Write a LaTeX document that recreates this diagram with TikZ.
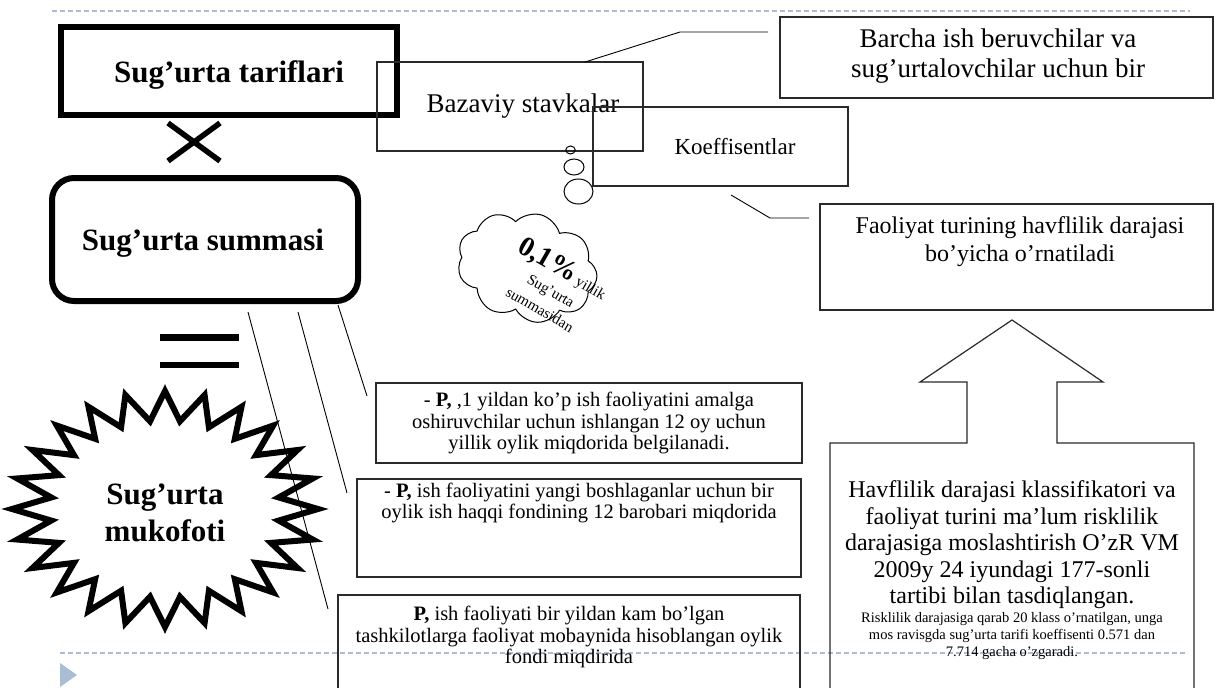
\documentclass[tikz,border=0pt]{standalone}
\usepackage{fontspec}
\setmainfont{Liberation Serif}
\usetikzlibrary{shapes.symbols,calc}
\definecolor{guideblue}{HTML}{A9BDD3}
\definecolor{boxline}{HTML}{2A2A2A}
\begin{document}
\begin{tikzpicture}[x=1pt,y=-1pt,
  thinbox/.style={draw=boxline,line width=1.2pt,inner sep=0pt,outer sep=0pt},
  heavybox/.style={draw=black,line width=6pt,inner sep=0pt,outer sep=0pt},
  titletxt/.style={font=\bfseries\fontsize{31}{37}\selectfont,align=center,inner sep=0pt},
  guide/.style={draw=guideblue,line width=1.2pt,dash pattern=on 5pt off 3pt},
  leader/.style={draw=black,line width=0.9pt},
  bigtxt/.style={font=\fontsize{27}{30}\selectfont,align=center,inner sep=0pt},
  midtxt/.style={font=\fontsize{20.5}{21.5}\selectfont,align=center,inner sep=0pt},
  starline/.style={draw=black,line width=6pt,line join=miter,miter limit=20}]
\useasboundingbox (0,0) rectangle (1216,688);
\clip (0,0) rectangle (1216,688);

% guide lines
\draw[guide] (52,11) -- (1190,11);
\draw[guide] (60,653) -- (1188,653);
\fill[guideblue] (60,663) -- (77,675) -- (60,687) -- cycle;

% left formula column
\node[heavybox,minimum width=336pt,minimum height=88.5pt] (tar) at (229,70.75) {};
\node[titletxt] (tartxt) at (229,75) {Sug’urta tariflari};
\draw[line width=5.5pt] (168,123) -- (220,161) (168,161) -- (220,123);
\node[heavybox,rounded corners=22pt,minimum width=306pt,minimum height=123pt] (sum) at (205,239.5) {};
\node[titletxt] (sumtxt) at (203,243) {Sug’urta summasi};
\fill (160,334) rectangle (239,341);
\fill (160,362) rectangle (239,368);
\draw[starline] plot[samples at={0,...,47}]
  ({165+153*(1-0.25*mod(\x,2))*cos(90+7.5*\x)},{509-118*(1-0.25*mod(\x,2))*sin(90+7.5*\x)}) -- cycle;
\node[titletxt] (muk) at (165,513) {Sug’urta\\mukofoti};

% top middle boxes
\node[thinbox,minimum width=266pt,minimum height=89pt,font=\fontsize{27}{30}\selectfont] (baz) at (510,106.5) {\hspace*{26pt}Bazaviy stavkalar};
\node[thinbox,minimum width=433pt,minimum height=81pt] (bar) at (996.5,57.5) {};
\node[bigtxt] (bartxt) at (998,56) {Barcha ish beruvchilar va\\sug’urtalovchilar uchun bir};
\node[thinbox,minimum width=255pt,minimum height=79pt,font=\fontsize{23}{26}\selectfont] (koef) at (720.5,146.5) {\hspace*{29pt}Koeffisentlar};
\node[thinbox,minimum width=393pt,minimum height=106pt] (fao) at (1016.5,257) {};
\node[font=\fontsize{24}{28}\selectfont,align=center,inner sep=0pt] (faotxt) at (1020,242) {Faoliyat turining havflilik darajasi\\bo’yicha o’rnatiladi};

% callout leaders
\coordinate (l1s) at (585,62);
\coordinate (l1m) at (680,32);
\coordinate (l1e) at (768,32);
\draw[leader] (l1s) -- (l1m) -- (l1e);
\coordinate (l2s) at (731,195);
\coordinate (l2m) at (770,218);
\coordinate (l2e) at (809,218);
\draw[leader] (l2s) -- (l2m) -- (l2e);

% thought bubbles and cloud
\draw[line width=1pt] (570.5,150) ellipse [x radius=4.8, y radius=4];
\draw[line width=1pt] (574,167) ellipse [x radius=10, y radius=8];
\draw[line width=1pt] (578.5,191.5) ellipse [x radius=14.5, y radius=12.5];
\node[cloud,draw,line width=1pt,cloud puffs=9,cloud puff arc=120,aspect=1.3,minimum width=142pt,minimum height=108pt,rotate=-15] (cloud) at (527,267) {};
\node[rotate=-30,align=center,inner sep=0pt,font=\fontsize{15}{22}\selectfont] (cloudtxt) at (553,287)
  {{\bfseries\fontsize{28}{28}\selectfont 0,1\%} yillik\\Sug’urta\\summasidan};

% P boxes
\node[thinbox,minimum width=426pt,minimum height=80pt,midtxt] (p1) at (589,423)
  {- \textbf{P,} ,1 yildan ko’p ish faoliyatini amalga\\oshiruvchilar uchun ishlangan 12 oy uchun\\yillik oylik miqdorida belgilanadi.};
\node[thinbox,minimum width=444pt,minimum height=98pt] (p2) at (579,528) {};
\node[midtxt] (p2txt) at (579,503) {- \textbf{P,} ish faoliyatini yangi boshlaganlar uchun bir\\oylik ish haqqi fondining 12 barobari miqdorida};
\node[thinbox,minimum width=462pt,minimum height=110pt] (p3) at (569,650) {};
\node[midtxt] (p3txt) at (569,637) {\textbf{P,} ish faoliyati bir yildan kam bo’lgan\\tashkilotlarga faoliyat mobaynida hisoblangan oylik\\fondi miqdirida};

% leaders from the sum box
\coordinate (a1) at (248,312); \coordinate (a2) at (328,609);
\coordinate (b1) at (298,312); \coordinate (b2) at (347,493);
\coordinate (c1) at (338,305); \coordinate (c2) at (367,396);
\draw[leader] (a1) -- (a2);
\draw[leader] (b1) -- (b2);
\draw[leader] (c1) -- (c2);

% up arrow callout
\draw[draw=boxline,line width=1.2pt,line join=miter] (830,700) -- (830,443) -- (967,443) -- (967,382) -- (920,382)
  -- (1012,320) -- (1103,382) -- (1057,382) -- (1057,443) -- (1194,443) -- (1194,700);
\coordinate (arrowtip) at (1012,320);
\node[font=\fontsize{24}{26.5}\selectfont,align=center,inner sep=0pt] (havtxt) at (1012,545)
  {Havflilik darajasi klassifikatori va\\faoliyat turini ma’lum risklilik\\darajasiga moslashtirish O’zR VM\\2009y 24 iyundagi 177-sonli\\tartibi bilan tasdiqlangan.};
\node[font=\fontsize{14.5}{17}\selectfont,align=center,inner sep=0pt] (smalltxt) at (1012,636)
  {Risklilik darajasiga qarab 20 klass o’rnatilgan, unga\\mos ravisgda sug’urta tarifi koeffisenti 0.571 dan\\7.714 gacha o’zgaradi.};
\end{tikzpicture}
\end{document}
